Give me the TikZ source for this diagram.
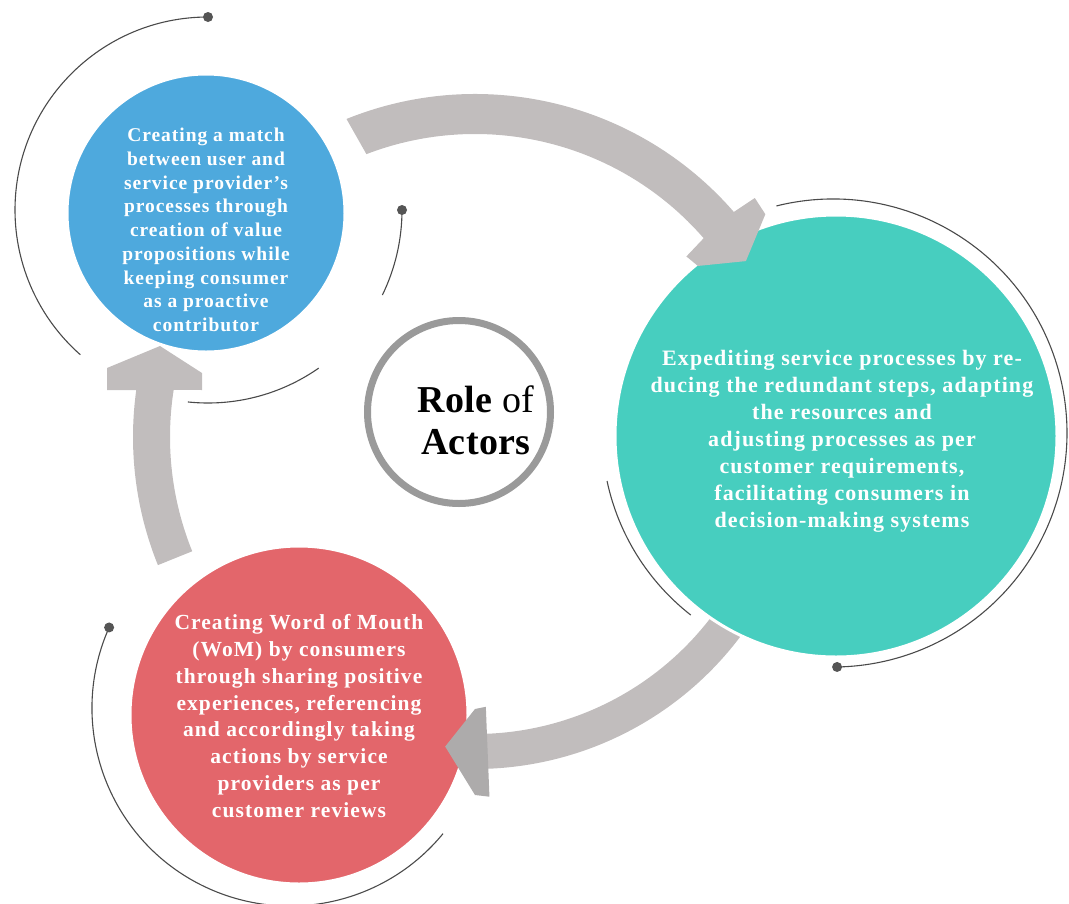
\documentclass[tikz,border=0pt]{standalone}
\usepackage{fontspec}
\setmainfont{Liberation Serif}
\newfontfamily\bubfont[LetterSpace=5]{Liberation Serif}
\newfontfamily\ttlfont[LetterSpace=1]{Liberation Serif}
\usetikzlibrary{calc}
\definecolor{cblue}{HTML}{4EA9DD}
\definecolor{cteal}{HTML}{47CEBF}
\definecolor{cred}{HTML}{E3666B}
\definecolor{arrowgray}{HTML}{C1BDBD}
\definecolor{headgray}{HTML}{ADABAB}
\definecolor{ringgray}{HTML}{9A9A9A}
\definecolor{arcgray}{HTML}{4A4A4A}
\definecolor{dotgray}{HTML}{555555}
\begin{document}
\begin{tikzpicture}[x=1pt,y=1pt,
  bubble/.style={circle, inner sep=0pt, draw=white, line width=3},
  bubtext/.style={align=center, text=white, inner sep=0pt},
  thinarc/.style={draw=arcgray, line width=1.1},
  arcdot/.style={fill=dotgray},
  arrowbody/.style={fill=arrowgray},
  arrowhead2/.style={fill=headgray}]
\useasboundingbox (0,0) rectangle (1069,-903);
\coordinate (O) at (475,-437);
\coordinate (BA) at (208,-210);
\coordinate (TA) at (833,-433);
\coordinate (RA) at (290,-708);

% thin decorative arcs
\coordinate (d1) at ($(BA)+(90:193)$);
\draw[thinarc] (d1) arc[start angle=90, end angle=228.6, radius=193];
\fill[arcdot] (d1) circle (5);
\coordinate (d2) at ($(BA)+(0:194)$);
\draw[thinarc] (d2) arc[start angle=0, end angle=-26, radius=194];
\fill[arcdot] (d2) circle (5);
\draw[thinarc] ($(BA)+(-55:193)$) arc[start angle=-55, end angle=-96, radius=193];
\coordinate (d3) at ($(TA)+(-89:234)$);
\draw[thinarc] ($(TA)+(104:234)$) arc[start angle=104, end angle=-89, radius=234];
\fill[arcdot] (d3) circle (5);
\draw[thinarc] ($(TA)+(192:231)$) arc[start angle=192, end angle=232, radius=231];
\coordinate (d4) at ($(RA)+(156:198)$);
\draw[thinarc] (d4) arc[start angle=156, end angle=320.6, radius=198];
\fill[arcdot] (d4) circle (5);

% red and blue circles
\node[bubble, fill=cred, minimum size=338] (red) at (299,-715) {};
\node[bubble, fill=cblue, minimum size=278] (blue) at (206,-213) {};

% arrow teal -> red (tail under teal)
\fill[arrowbody] ($(O)+(327:332)$) arc[start angle=327, end angle=272, radius=332]
  -- ($(O)+(272:297)$) arc[start angle=272, end angle=327, radius=297] -- cycle;
\fill[arrowhead2] ($(O)+(272.3:360)$) -- ($(O)+(270:358)$) -- ($(O)+(264.5:311)$)
  -- ($(O)+(270:272)$) -- ($(O)+(272.3:270)$) -- cycle;

% teal circle
\node[bubble, fill=cteal, minimum size=442] (teal) at (836,-436) {};

% arrow blue -> teal
\fill[arrowbody] ($(O)+(112:343)$) arc[start angle=112, end angle=41, radius=343]
  -- ($(O)+(40.5:368)$) -- ($(O)+(37.5:366)$) -- ($(O)+(33:323)$)
  -- ($(O)+(37.5:281)$) -- ($(O)+(40.5:278)$)
  -- ($(O)+(41:303)$) arc[start angle=41, end angle=111, radius=303] -- cycle;

% arrow red -> blue
\coordinate (h3a) at (107,-390);
\coordinate (h3b) at (107,-368);
\coordinate (h3t) at (160,-346);
\coordinate (h3c) at (202,-373);
\coordinate (h3d) at (202,-390);
\fill[arrowbody] ($(O)+(202:342)$) arc[start angle=202, end angle=172.1, radius=342]
  -- (h3a) -- (h3b) -- (h3t) -- (h3c) -- (h3d)
  -- ($(O)+(171.1:305)$) arc[start angle=171.1, end angle=202, radius=305] -- cycle;

% center ring
\node[circle, draw=ringgray, line width=7, fill=white, minimum size=183, inner sep=0pt] (ring) at (459,-412) {};
\node[align=center, inner sep=0pt, font=\ttlfont\fontsize{38}{42}\selectfont] (title) at (476,-420)
  {\textbf{Role} of\\\textbf{Actors}};

% texts
\node[bubtext, font=\bubfont\bfseries\fontsize{19.5}{23.75}\selectfont] (bluetext) at (206,-230)
  {Creating a match\\between user and\\service provider’s\\processes through\\creation of value\\propositions while\\keeping consumer\\as a proactive\\contributor};
\node[bubtext, font=\bubfont\bfseries\fontsize{22}{27}\selectfont] (tealtext) at (842,-441)
  {Expediting service processes by re-\\ducing the redundant steps, adapting\\the resources and\\adjusting processes as per\\customer requirements,\\facilitating consumers in\\decision-making systems};
\node[bubtext, font=\bubfont\bfseries\fontsize{21.5}{26.8}\selectfont] (redtext) at (299,-716)
  {Creating Word of Mouth\\(WoM) by consumers\\through sharing positive\\experiences, referencing\\and accordingly taking\\actions by service\\providers as per\\customer reviews};
\end{tikzpicture}
\end{document}
